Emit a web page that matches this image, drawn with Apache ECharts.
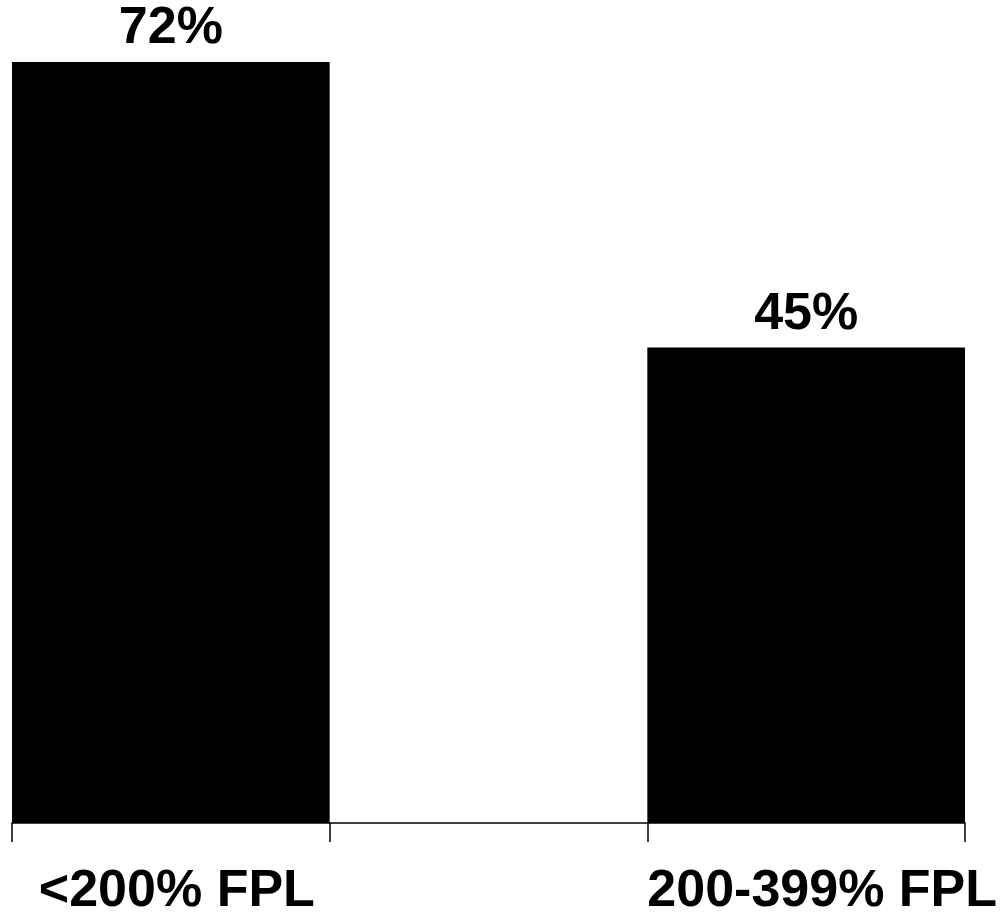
<!DOCTYPE html>
<html>
<head>
<meta charset="utf-8">
<script src="https://cdn.jsdelivr.net/npm/echarts@6/dist/echarts.min.js"></script>
<style>html,body{margin:0;padding:0;background:#fff}#c{width:1004px;height:913px}</style>
</head>
<body>
<div id="c"></div>
<script>
const categories = ['<200% FPL', '', '200-399% FPL'];
const values = [72, '-', 45];

const FONT = 'Liberation Sans, Arial, sans-serif';
const chart = echarts.init(document.getElementById('c'));
chart.setOption({
  animation: false,
  backgroundColor: '#fff',
  grid: { left: 12, right: 39, top: 62, bottom: 90, containLabel: false, outerBoundsMode: 'none' },
  xAxis: {
    type: 'category',
    data: categories,
    axisLine: { show: true, lineStyle: { color: '#000', width: 1.5 } },
    axisTick: { show: true, length: 19, alignWithLabel: false, lineStyle: { color: '#000', width: 1.5 } },
    axisLabel: {
      color: '#000', fontFamily: FONT, fontWeight: 'bold',
      fontSize: 52, margin: 43, interval: 0, hideOverlap: false,
      formatter: function (v, i) {
        if (!v) return '';
        return i === 0 ? '{a|' + v + '}' : '{b|' + v + '}';
      },
      rich: {
        a: { color: '#000', fontFamily: FONT, fontWeight: 'bold', fontSize: 52, padding: [0, 0, 0, 12] },
        b: { color: '#000', fontFamily: FONT, fontWeight: 'bold', fontSize: 52, padding: [0, 0, 0, 32] }
      }
    }
  },
  yAxis: { type: 'value', min: 0, max: 72, show: false, splitLine: { show: false } },
  series: [{
    type: 'bar',
    data: values,
    barWidth: '100%',
    itemStyle: { color: '#000' },
    label: {
      show: true, position: 'top', distance: 7,
      formatter: '{c}%',
      color: '#000', fontFamily: FONT, fontWeight: 'bold', fontSize: 52
    }
  }]
});
</script>
</body>
</html>
